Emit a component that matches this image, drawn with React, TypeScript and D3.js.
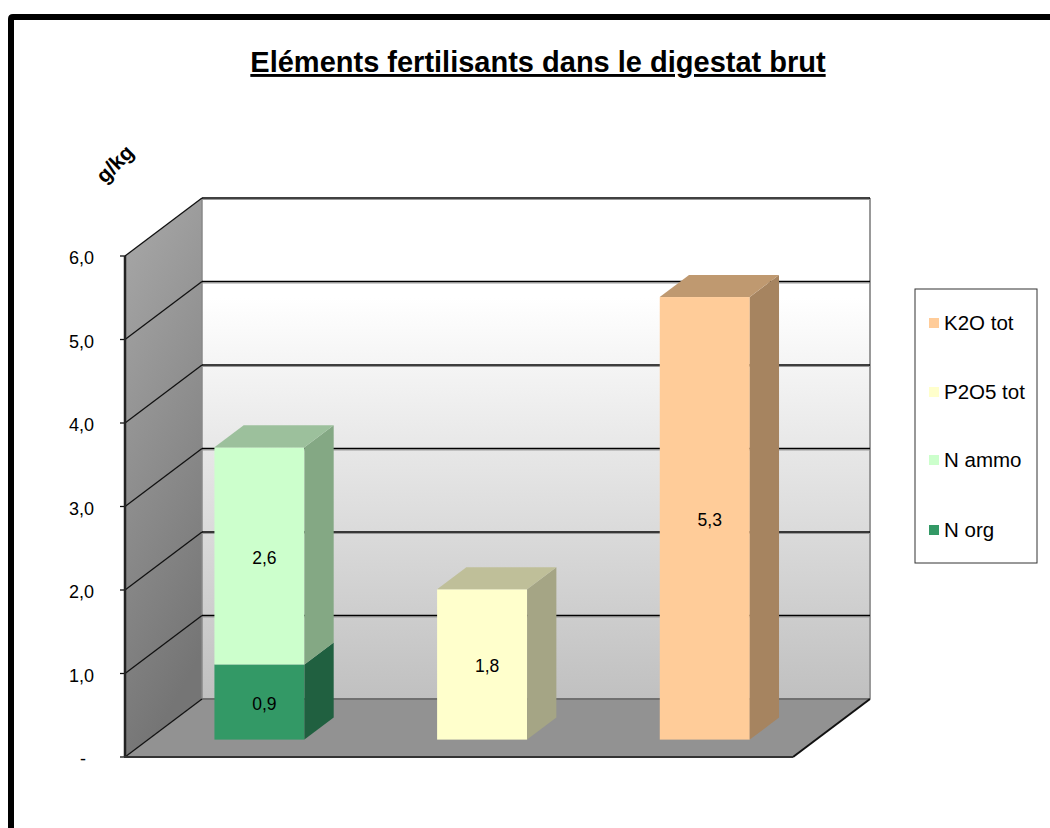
import React from "react";
import * as d3 from "d3";

const categories = ["Azote", "Phosphore", "Potassium"];
const seriesNames = ["N org", "N ammo", "P2O5 tot", "K2O tot"];
const nOrg = [0.9, 0, 0];
const nAmmo = [2.6, 0, 0];
const p2o5 = [0, 1.8, 0];
const k2o = [0, 0, 5.3];
const yTicks = [0, 1, 2, 3, 4, 5, 6];
const seriesFront = ["#339966", "#ccffcc", "#ffffcc", "#ffcc99"];
const seriesTop = ["#267a4f", "#9cc09c", "#bfbf99", "#bf9970"];
const seriesSide = ["#206040", "#84a884", "#a5a585", "#a68460"];
const legendOrder = [3, 2, 1, 0];

const font = "'Liberation Sans', Arial, sans-serif";

// Oblique projection of the chart box: front plane plus a depth vector.
const depthX = 77;
const depthY = -58;
const barOffset = 0.3;
const barDepth = 0.38;

const y = d3.scaleLinear().domain([0, 6]).range([757, 256]);
const x = d3.scaleBand<string>().domain(categories).range([125, 793]);
const barWidth = 90;

const fmt = (v: number) => v.toFixed(1).replace(".", ",");
const poly = (pts: [number, number][]) => pts.map((p) => p.join(",")).join(" ");

const stack = d3.stack<number>()
  .keys(seriesNames.map((_, i) => String(i)))
  .value((i, k) => [nOrg, nAmmo, p2o5, k2o][+k][i as unknown as number]);
const stacked = stack(categories.map((_, i) => i));

export default function App() {
  const yBase = y(0);
  const backX0 = 125 + depthX;
  const backX1 = 793 + depthX;
  const offX = depthX * barOffset;
  const offY = depthY * barOffset;
  const dX = depthX * barDepth;
  const dY = depthY * barDepth;

  return (
    <svg
      width={1050}
      height={828}
      style={{ position: "absolute", left: 0, top: 0, background: "#fff" }}
      fontFamily={font}
    >
      <defs>
        <linearGradient id="backWall" x1="0" y1="0" x2="0" y2="1">
          <stop offset="0" stopColor="#ffffff" />
          <stop offset="0.2" stopColor="#ffffff" />
          <stop offset="1" stopColor="#c0c0c0" />
        </linearGradient>
        <linearGradient id="sideWall" x1="0" y1="0" x2="0.25" y2="1">
          <stop offset="0" stopColor="#a9a9a9" />
          <stop offset="1" stopColor="#757575" />
        </linearGradient>
      </defs>

      {/* Outer frame, running off the right and bottom edges */}
      <path
        d="M11,840 V19 Q11,17 13,17 H1060"
        fill="none"
        stroke="#000"
        strokeWidth={6}
      />

      <text
        x={538}
        y={72}
        textAnchor="middle"
        fontSize={29}
        fontWeight="bold"
        textDecoration="underline"
      >
        Eléments fertilisants dans le digestat brut
      </text>

      <text
        transform="translate(116,165) rotate(-45)"
        textAnchor="middle"
        dominantBaseline="middle"
        fontSize={21}
        fontWeight="bold"
      >
        g/kg
      </text>

      {/* Walls and floor */}
      <rect
        x={backX0}
        y={y(6) + depthY}
        width={backX1 - backX0}
        height={y(0) - y(6)}
        fill="url(#backWall)"
      />
      <polygon
        points={poly([
          [125, y(6)],
          [backX0, y(6) + depthY],
          [backX0, yBase + depthY],
          [125, yBase],
        ])}
        fill="url(#sideWall)"
      />
      <polygon
        points={poly([
          [125, yBase],
          [793, yBase],
          [backX1, yBase + depthY],
          [backX0, yBase + depthY],
        ])}
        fill="#929292"
      />
      <line x1={backX0} x2={backX0} y1={y(6) + depthY} y2={yBase + depthY} stroke="#888" strokeWidth={1.5} />
      <line x1={backX1} x2={backX1} y1={y(6) + depthY} y2={yBase + depthY} stroke="#999" strokeWidth={2} />
      <line x1={backX0} x2={backX1} y1={yBase + depthY} y2={yBase + depthY} stroke="#707070" strokeWidth={2} />

      {/* Gridlines folded across side and back walls */}
      {yTicks.map((t) => (
        <g key={t}>
          {t > 0 && (
            <>
              <line
                x1={backX0}
                x2={backX1}
                y1={y(t) + depthY + 1.5}
                y2={y(t) + depthY + 1.5}
                stroke="#999"
                strokeWidth={1}
              />
              <line
                x1={backX0}
                x2={backX1}
                y1={y(t) + depthY}
                y2={y(t) + depthY}
                stroke="#000"
                strokeWidth={1.5}
              />
            </>
          )}
          <line
            x1={125}
            x2={backX0}
            y1={y(t)}
            y2={y(t) + depthY}
            stroke="#111"
            strokeWidth={1.3}
          />
          <line x1={120} x2={125} y1={y(t)} y2={y(t)} stroke="#111" strokeWidth={1.3} />
          <text
            x={t === 0 ? 86 : 94}
            y={y(t) + 2}
            textAnchor="end"
            dominantBaseline="central"
            fontSize={18}
          >
            {t === 0 ? "-" : fmt(t)}
          </text>
        </g>
      ))}

      <line x1={793} x2={backX1} y1={yBase} y2={yBase + depthY} stroke="#111" strokeWidth={2} />
      <line x1={125} x2={125} y1={y(6)} y2={yBase} stroke="#222" strokeWidth={2.5} />
      <line x1={124} x2={793} y1={yBase} y2={yBase} stroke="#333" strokeWidth={2} />

      {/* Extruded stacked bars */}
      {categories.map((c, ci) => {
        const left = (x(c) as number) + (x.bandwidth() - barWidth) / 2 + offX;
        const right = left + barWidth;
        return (
          <g key={c}>
            {stacked.map((layer, si) => {
              const [v0, v1] = layer[ci];
              if (v1 === v0) return null;
              const top = y(v1) + offY;
              const bottom = y(v0) + offY;
              return (
                <g key={si}>
                  <rect x={left} y={top} width={barWidth} height={bottom - top} fill={seriesFront[si]} />
                  <polygon
                    points={poly([
                      [right, top],
                      [right + dX, top + dY],
                      [right + dX, bottom + dY],
                      [right, bottom],
                    ])}
                    fill={seriesSide[si]}
                  />
                  {v1 === d3.max(stacked, (l) => l[ci][1]) && (
                    <polygon
                      points={poly([
                        [left, top],
                        [left + dX, top + dY],
                        [right + dX, top + dY],
                        [right, top],
                      ])}
                      fill={seriesTop[si]}
                    />
                  )}
                  <text
                    x={(left + right) / 2 + 5}
                    y={(top + bottom) / 2 + 2}
                    textAnchor="middle"
                    dominantBaseline="central"
                    fontSize={17.5}
                  >
                    {fmt(v1 - v0)}
                  </text>
                </g>
              );
            })}
          </g>
        );
      })}

      {/* Legend */}
      <rect x={915} y={289} width={122} height={274} fill="#fff" stroke="#333" strokeWidth={1} />
      {legendOrder.map((si, i) => {
        const ly = [323, 392, 460, 530][i];
        return (
          <g key={si}>
            <rect x={929} y={ly - 5} width={10} height={10} fill={seriesFront[si]} />
            <text x={944} y={ly - 0.5} dominantBaseline="central" fontSize={20.5}>
              {seriesNames[si]}
            </text>
          </g>
        );
      })}
    </svg>
  );
}
